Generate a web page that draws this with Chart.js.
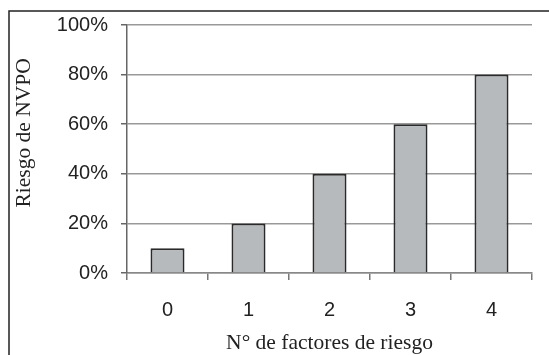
<!DOCTYPE html>
<html>
<head>
<meta charset="utf-8">
<script src="https://cdn.jsdelivr.net/npm/chart.js@4"></script>
<style>
html,body{margin:0;padding:0;background:#fff;}
#wrap{width:549px;height:355px;position:relative;}
</style>
</head>
<body>
<div id="wrap"><canvas id="c" width="549" height="355"></canvas></div>
<script>
const categories = ["0", "1", "2", "3", "4"];
const riskValues = [10, 20, 40, 60, 80];
const yTicks = [0, 20, 40, 60, 80, 100];
const xTitle = "N° de factores de riesgo";
const yTitle = "Riesgo de NVPO";

const frame = {
  id: 'frame',
  afterDraw(chart) {
    const ctx = chart.ctx;
    ctx.save();
    ctx.strokeStyle = '#222';
    ctx.lineWidth = 1.5;
    ctx.beginPath();
    ctx.moveTo(9, 355);
    ctx.lineTo(9, 11);
    ctx.lineTo(549, 11);
    ctx.stroke();
    ctx.restore();
  }
};

new Chart(document.getElementById('c'), {
  type: 'bar',
  data: {
    labels: categories,
    datasets: [{
      data: riskValues,
      backgroundColor: '#b6babd',
      borderColor: '#2a2a2a',
      borderWidth: 2,
      barPercentage: 0.42,
      categoryPercentage: 1
    }]
  },
  options: {
    responsive: false,
    animation: false,
    layout: { padding: { left: 0, top: 24, right: 17, bottom: 0 } },
    plugins: { legend: { display: false }, tooltip: { enabled: false } },
    scales: {
      x: {
        offset: true,
        grid: {
          offset: true,
          drawOnChartArea: true,
          color: ctx => ctx.index === categories.length ? '#8c8c8c' : 'rgba(0,0,0,0)',
          lineWidth: 1.5,
          tickColor: '#777',
          tickLength: 7
        },
        border: { color: '#888', width: 1.5 },
        ticks: {
          color: '#222',
          padding: 18,
          font: { family: 'Liberation Sans', size: 20 }
        },
        title: {
          display: true,
          text: xTitle,
          color: '#222',
          padding: { top: 0, bottom: -1 },
          font: { family: 'Liberation Serif', size: 21.5 }
        },
        afterFit(scale) { scale.height = 82; }
      },
      y: {
        min: 0,
        max: 100,
        afterBuildTicks(scale) { scale.ticks = yTicks.map(v => ({ value: v })); },
        grid: {
          color: '#999',
          lineWidth: 1.5,
          tickColor: '#666',
          tickLength: 6
        },
        border: { color: '#666', width: 1.5 },
        ticks: {
          color: '#222',
          padding: 13,
          font: { family: 'Liberation Sans', size: 20 },
          callback: v => v + '%'
        },
        title: {
          display: true,
          text: '\u2002\u2002\u2002' + yTitle,
          color: '#222',
          padding: { top: 11, bottom: 0 },
          font: { family: 'Liberation Serif', size: 21.5 }
        },
        afterFit(scale) { scale.width = 127; }
      }
    }
  },
  plugins: [frame]
});
</script>
</body>
</html>
